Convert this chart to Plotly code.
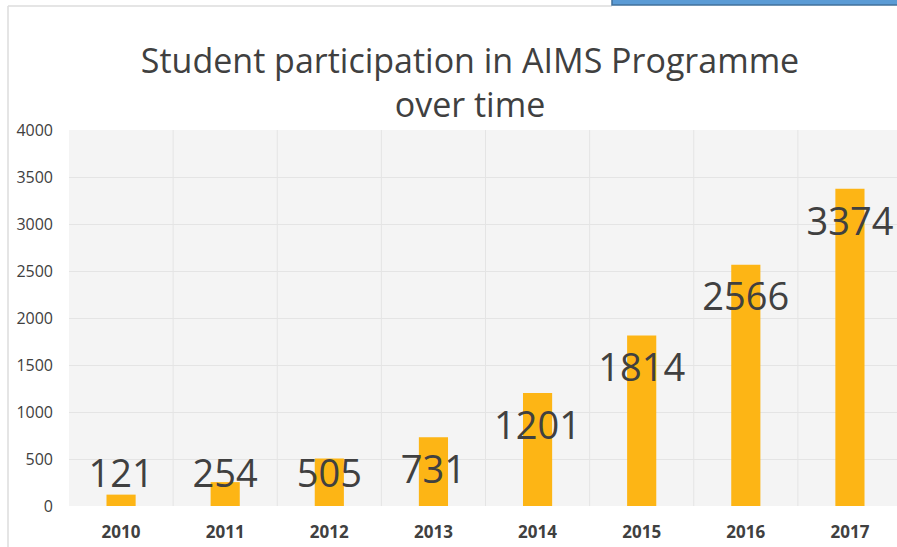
import plotly.graph_objects as go

years = ["2010", "2011", "2012", "2013", "2014", "2015", "2016", "2017"]
students = [121, 254, 505, 731, 1201, 1814, 2566, 3374]
y_ticks = [0, 500, 1000, 1500, 2000, 2500, 3000, 3500, 4000]

W, H = 902, 547
L, R, T, B = 69, 0, 130, 41
pw = W - L - R
ph = H - T - B

def px(x):
    return (x - L) / pw

def py(y):
    return (H - B - y) / ph

label_y = [max(v - 385, 300) for v in students]

fig = go.Figure()
fig.add_trace(go.Bar(x=years, y=students, marker=dict(color="#FDB515", line=dict(width=0)),
                     hoverinfo="x+y"))
fig.add_trace(go.Scatter(x=years, y=label_y, mode="text", text=[str(v) for v in students],
                         textposition="middle center",
                         textfont=dict(family="Open Sans", size=38, color="#404040"),
                         hoverinfo="skip"))

fig.update_layout(
    width=W, height=H,
    margin=dict(l=L, r=R, t=T, b=B),
    paper_bgcolor="white",
    plot_bgcolor="#f4f4f4",
    showlegend=False,
    bargap=0.72,
    title=dict(text="Student participation in AIMS Programme<br>over time",
               x=px(470), xanchor="center", xref="paper",
               y=1 - 73 / H, yanchor="middle",
               font=dict(family="Open Sans", size=34, color="#404040")),
    xaxis=dict(type="category", showgrid=False, zeroline=False,
               tickfont=dict(family="Open Sans", size=17, color="#404040", weight="bold"),
               ticks="", ticklabelstandoff=14),
    yaxis=dict(range=[0, 4000], tickvals=y_ticks, showgrid=True, gridcolor="#e4e4e4",
               gridwidth=1, zeroline=False, ticks="",
               tickfont=dict(family="Open Sans", size=16, color="#404040"),
               ticklabelstandoff=15),
    shapes=[
        *[dict(type="line", xref="x", yref="paper", x0=i - 0.5, x1=i - 0.5, y0=0, y1=1,
               line=dict(color="#e4e4e4", width=1), layer="below") for i in range(1, len(years))],
        dict(type="line", xref="paper", yref="paper", x0=px(8), x1=px(612), y0=py(6), y1=py(6),
             line=dict(color="#dcdcdc", width=1.5)),
        dict(type="line", xref="paper", yref="paper", x0=px(8), x1=px(8), y0=py(6), y1=py(547),
             line=dict(color="#dcdcdc", width=1.5)),
        dict(type="rect", xref="paper", yref="paper", x0=px(612), x1=px(905), y0=py(-2), y1=py(5),
             fillcolor="#5B9BD5", line=dict(color="#41719C", width=1.5)),
    ],
)

fig.write_html("out.html", config={"displayModeBar": False},
               post_script="document.body.style.margin='0';document.body.style.overflow='hidden';")
